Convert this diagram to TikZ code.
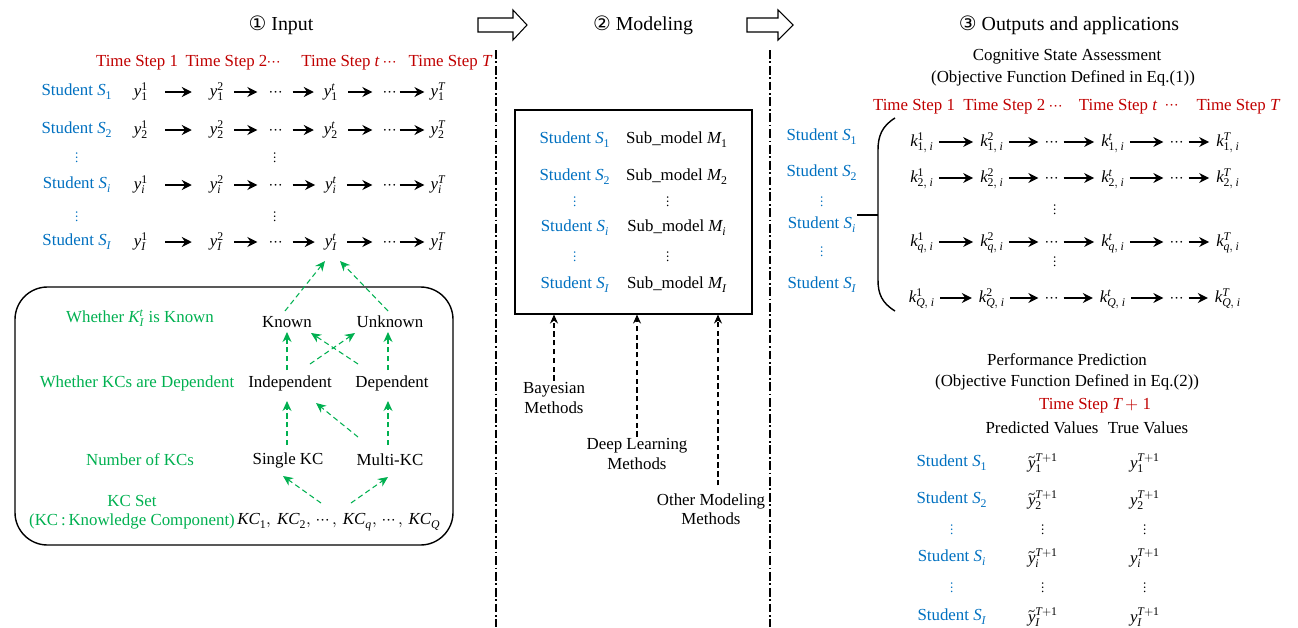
\documentclass[tikz,border=0pt]{standalone}
\usepackage{unicode-math}
\setmainfont{Liberation Serif}
\setmathfont{Latin Modern Math}
\setmathfont{Liberation Serif}[range=up/num]
\setmathfont{Liberation Serif Italic}[range=it/{latin,Latin}]
\newfontfamily\circfont{DejaVu Sans}
\usetikzlibrary{arrows.meta,calc}
\definecolor{stublue}{RGB}{0,112,192}
\definecolor{tsred}{RGB}{192,0,0}
\definecolor{kcgreen}{RGB}{0,176,80}

\begin{document}
\begin{tikzpicture}[x=0.2mm,y=-0.2mm,
  every node/.style={font=\fontsize{9.6}{11}\selectfont,inner sep=1pt},
  head/.style={font=\fontsize{11.3}{13}\selectfont},
  stu/.style={text=stublue},
  ts/.style={text=tsred},
  kc/.style={text=kcgreen},
  vd/.style={font=\fontsize{8.5}{9}\selectfont,inner sep=0pt},
  cell/.style={text height=8pt,text depth=3pt},
  fwd/.style={-{Stealth[length=2mm,width=2mm]},line width=0.8pt},
  gdash/.style={kcgreen,line width=0.6pt,dash pattern=on 3pt off 2pt,-{Stealth[length=2mm,width=1.8mm]}},
  kdash/.style={line width=0.6pt,dash pattern=on 3pt off 2pt,-{Stealth[length=1.8mm,width=1.6mm]}},
  sep/.style={line width=0.6pt,dash pattern=on 5pt off 1.5pt on 1pt off 1.5pt}]
\useasboundingbox (0,0) rectangle (1298,627);

% headings and block arrows
\node[head] (t-in) at (281,25) {{\circfont ①} Input};
\node[head] (t-md) at (643,25) {{\circfont ②} Modeling};
\node[head] (t-out) at (1069,25) {{\circfont ③} Outputs and applications};
\draw[line width=0.6pt] (478,18)--(513,18)--(513,10)--(527,25)--(513,40)--(513,32)--(478,32)--cycle;
\draw[line width=0.6pt] (747,18)--(778,18)--(778,10)--(793,25)--(778,40)--(778,32)--(747,32)--cycle;
\draw[sep] (496,50)--(496,627);
\draw[sep] (770,50)--(770,627);

% input
\node[ts] (in-ts1) at (137,63) {Time Step 1};
\node[ts] (in-ts2) at (233,63) {Time Step 2$\cdots$};
\node[ts] (in-tst) at (349,63) {Time Step $t$ $\cdots$};
\node[ts] (in-tsT) at (450,63) {Time Step $T$};
\foreach \r/\s/\yy in {a/1/92,b/2/130,c/i/185,d/I/242}{
  \node[stu] (in-\r-s) at (77,\yy) {Student $S_{\s}$};
  \node[cell] (in-\r-1) at (141,\yy) {$y^{1}_{\s}$};
  \node[cell] (in-\r-2) at (217,\yy) {$y^{2}_{\s}$};
  \node[cell] (in-\r-d1) at (276,\yy) {$\cdots$};
  \node[cell] (in-\r-t) at (331,\yy) {$y^{t}_{\s}$};
  \node[cell] (in-\r-d2) at (390,\yy) {$\cdots$};
  \node[cell] (in-\r-T) at (438,\yy) {$y^{T}_{\s}$};
  \foreach \a/\b/\p/\q in {1/2/15/16,2/d1/8/10,d1/t/8/8,t/d2/8/9,d2/T/1/4}
    \draw[fwd,shorten <=\p*0.2mm,shorten >=\q*0.2mm] (in-\r-\a) -- (in-\r-\b);
}
\foreach \yy/\n in {158/1,217/2}{
  \node[stu,vd] (in-sv\n) at (77,\yy) {$\vdots$};
  \node[vd] (in-yv\n) at (275,\yy) {$\vdots$};
}

\draw[rounded corners=6.5mm,line width=0.8pt] (15,287) rectangle (453,545);
\node[kc] (lab-known) at (140,318) {Whether $K^{t}_{I}$ is Known};
\node[kc] (lab-dep) at (137,383) {Whether KCs are Dependent};
\node[kc] (lab-num) at (140,460) {Number of KCs};
\node[kc,align=center] (lab-set) at (132,512) {KC Set\\(KC\,:\,Knowledge Component)};
\node (known) at (287,322) {Known};
\node (unknown) at (390,322) {Unknown};
\node (indep) at (290,383) {Independent};
\node (dep) at (392,383) {Dependent};
\node (single) at (288,460) {Single KC};
\node (multi) at (390,460) {Multi-KC};
\node (kcs) at (339,522) {$KC_{1},\,KC_{2},\,\cdots,\,KC_{q},\,\cdots,\,KC_{Q}$};
\draw[gdash] ($(known)+(-2,-11)$) -- ($(in-d-t)+(-6,19)$);
\draw[gdash] ($(unknown)+(-2,-11)$) -- ($(in-d-t)+(9,19)$);
\draw[gdash] ($(indep)+(-3,-13)$) -- ($(known)+(0,10)$);
\draw[gdash] ($(dep)+(-4,-13)$) -- ($(unknown)+(-2,10)$);
\draw[gdash] ($(indep)+(20,-19)$) -- ($(unknown)+(-35,11)$);
\draw[gdash] ($(dep)+(-34,-19)$) -- ($(known)+(24,11)$);
\draw[gdash] ($(single)+(-1,-15)$) -- ($(indep)+(-3,18)$);
\draw[gdash] ($(multi)+(-2,-15)$) -- ($(dep)+(-4,18)$);
\draw[gdash] ($(multi)+(-32,-23)$) -- ($(indep)+(26,20)$);
\draw[gdash] ($(kcs)+(-18,-19)$) -- ($(single)+(-5,16)$);
\draw[gdash] ($(kcs)+(12,-19)$) -- ($(multi)+(-2,17)$);

% modeling
\node[draw,line width=0.6pt,minimum width=47.4mm,minimum height=40.8mm] (mbox) at (633.5,212) {};
\foreach \r/\s/\yy in {a/1/140,b/2/177,c/i/228,d/I/285}{
  \node[stu] (md-\r-s) at (575,\yy) {Student $S_{\s}$};
  \node (md-\r-m) at (677,\yy) {Sub\_model $M_{\s}$};
}
\foreach \yy/\n in {202/1,257/2}{
  \node[stu,vd] (md-sv\n) at (575,\yy) {$\vdots$};
  \node[vd] (md-mv\n) at (668,\yy) {$\vdots$};
}
\node[align=center] (bayes) at (554,398) {Bayesian\\Methods};
\node[align=center] (deep) at (637,454) {Deep Learning\\Methods};
\node[align=center] (other) at (711,509) {Other Modeling\\Methods};
\draw[kdash] (bayes.north) -- (bayes.north |- mbox.south);
\draw[kdash] (deep.north) -- (deep.north |- mbox.south);
\draw[kdash,shorten <=1.2mm] ([xshift=1.4mm]other.north) -- ([xshift=1.4mm]other.north |- mbox.south);

% cognitive state assessment
\node (csa) at (1067,57) {Cognitive State Assessment};
\node (csa-eq) at (1063,78) {(Objective Function Defined in Eq.(1))};
\node[ts] (out-ts1) at (914,107) {Time Step 1};
\node[ts] (out-ts2) at (1013,107) {Time Step 2 $\cdots$};
\node[ts] (out-tst) at (1118,107) {Time Step $t$};
\node[ts] (out-tsd) at (1172,107) {$\cdots$};
\node[ts] (out-tsT) at (1238,107) {Time Step $T$};
\foreach \r/\s/\yy in {a/1/137,b/2/173,c/i/225,d/I/285}
  \node[stu] (out-\r-s) at (822,\yy) {Student $S_{\s}$};
\node[stu,vd] (out-sv1) at (822,202) {$\vdots$};
\node[stu,vd] (out-sv2) at (822,252) {$\vdots$};
\draw[line width=0.8pt] (895,118) .. controls (882,126) and (878,136) .. (878,150) -- (878,280) .. controls (878,294) and (882,303) .. (895,311);
\draw[line width=0.8pt] (857,215) -- (878,215);
\foreach \r/\s/\yy in {a/1/142,b/2/178,c/q/242,d/Q/298}{
  \node[cell] (k-\r-1) at (922,\yy) {$k^{1}_{\s,\,i}$};
  \node[cell] (k-\r-2) at (992,\yy) {$k^{2}_{\s,\,i}$};
  \node[cell] (k-\r-d1) at (1052,\yy) {$\cdots$};
  \node[cell] (k-\r-t) at (1113,\yy) {$k^{t}_{\s,\,i}$};
  \node[cell] (k-\r-d2) at (1177,\yy) {$\cdots$};
  \node[cell] (k-\r-T) at (1228,\yy) {$k^{T}_{\s,\,i}$};
  \foreach \a/\b in {1/2,2/d1,d1/t,t/d2,d2/T}
    \draw[fwd,shorten <=0.6mm,shorten >=1mm] (k-\r-\a) -- (k-\r-\b);
}
\node[vd] (k-v1) at (1055,210) {$\vdots$};
\node[vd] (k-v2) at (1055,262) {$\vdots$};

% performance prediction
\node (pp) at (1067,360) {Performance Prediction};
\node (pp-eq) at (1067,382) {(Objective Function Defined in Eq.(2))};
\node[ts] (pp-ts) at (1095,406) {Time Step $T+1$};
\node (pp-pred) at (1042,428) {Predicted Values};
\node (pp-true) at (1148,428) {True Values};
\foreach \r/\s/\yy in {a/1/463,b/2/500,c/i/558,d/I/617}{
  \node[stu] (pp-\r-s) at (952,\yy) {Student $S_{\s}$};
  \node (pp-\r-p) at (1043,\yy) {$\widetilde{y}^{T+1}_{\s}$};
  \node (pp-\r-y) at (1145,\yy) {$y^{T+1}_{\s}$};
}
\foreach \yy/\n in {530/1,588/2}{
  \node[stu,vd] (pp-sv\n) at (952,\yy) {$\vdots$};
  \node[vd] (pp-pv\n) at (1043,\yy) {$\vdots$};
  \node[vd] (pp-yv\n) at (1145,\yy) {$\vdots$};
}
\end{tikzpicture}
\end{document}
